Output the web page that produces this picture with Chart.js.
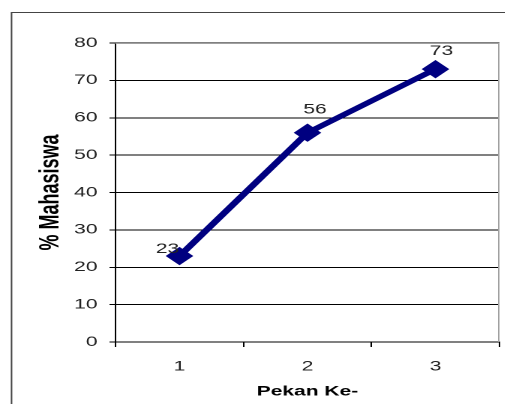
<!DOCTYPE html>
<html>
<head>
<meta charset="utf-8">
<script src="https://cdn.jsdelivr.net/npm/chart.js@4/dist/chart.umd.min.js"></script>
<style>
  html, body { margin: 0; padding: 0; background: #fff; overflow: hidden; }
  /* La imagen original está estirada en horizontal (~1.5x) */
  #wrap { width: 337px; height: 404px; transform: scaleX(1.5); transform-origin: 0 0; }
</style>
</head>
<body>
<div id="wrap"><canvas id="grafica" width="337" height="404"></canvas></div>
<script>
// Datos de la gráfica
var labelsPekan = ['1', '2', '3'];
var valuesMahasiswa = [23, 56, 73];
var ticksY = [0, 10, 20, 30, 40, 50, 60, 70, 80];

var fuente = '"Liberation Sans", Arial, sans-serif';

// Marco exterior y borde del área del gráfico
var marcoPlugin = {
    id: 'marco',
    beforeDraw: function (chart) {
        var ctx = chart.ctx;
        ctx.save();
        ctx.strokeStyle = '#444';
        ctx.lineWidth = 1;
        ctx.beginPath();
        ctx.moveTo(7.7, 420);
        ctx.lineTo(7.7, 12.5);
        ctx.lineTo(360, 12.5);
        ctx.stroke();
        ctx.restore();
    },
    beforeDatasetsDraw: function (chart) {
        var a = chart.chartArea;
        var ctx = chart.ctx;
        ctx.save();
        ctx.strokeStyle = '#a0a0a0';
        ctx.lineWidth = 1;
        ctx.beginPath();
        ctx.moveTo(a.left, a.top + 0.5);
        ctx.lineTo(a.right - 0.5, a.top + 0.5);
        ctx.lineTo(a.right - 0.5, a.bottom);
        ctx.stroke();
        ctx.restore();
    }
};

// Etiquetas de valor junto a cada punto
var etiquetasPlugin = {
    id: 'etiquetas',
    afterDatasetsDraw: function (chart) {
        var ctx = chart.ctx;
        var meta = chart.getDatasetMeta(0);
        var desplaz = [[-8, -7], [5, -23], [4, -18]];
        ctx.save();
        ctx.font = '14px ' + fuente;
        ctx.fillStyle = '#222';
        ctx.textAlign = 'center';
        ctx.textBaseline = 'middle';
        meta.data.forEach(function (p, i) {
            ctx.fillText(String(valuesMahasiswa[i]), p.x + desplaz[i][0], p.y + desplaz[i][1]);
        });
        ctx.restore();
    }
};

var chart = new Chart(document.getElementById('grafica').getContext('2d'), {
    type: 'line',
    data: {
        labels: labelsPekan,
        datasets: [{
            data: valuesMahasiswa,
            borderColor: '#000080',
            backgroundColor: '#000080',
            borderWidth: 5,
            pointStyle: 'rectRot',
            pointRadius: 8.5,
            pointBorderWidth: 1,
            pointBackgroundColor: '#000080',
            pointBorderColor: '#000080',
            tension: 0
        }]
    },
    options: {
        responsive: false,
        animation: false,
        devicePixelRatio: 2,
        events: [],
        layout: {
            autoPadding: false,
            padding: { left: 0, top: 43, right: 4, bottom: 0 }
        },
        plugins: {
            legend: { display: false },
            tooltip: { enabled: false }
        },
        scales: {
            x: {
                type: 'category',
                offset: true,
                afterFit: function (s) {
                    s.height = 62;
                    s.paddingLeft = 0;
                    s.paddingRight = 0;
                },
                grid: {
                    display: true,
                    offset: true,
                    drawOnChartArea: false,
                    drawTicks: true,
                    tickLength: 5,
                    color: '#000'
                },
                border: { display: true, color: '#000', width: 1 },
                ticks: {
                    color: '#222',
                    padding: 11,
                    font: { family: fuente, size: 14 }
                },
                title: {
                    display: true,
                    text: 'Pekan Ke-',
                    color: '#000',
                    padding: { top: 0, bottom: 4 },
                    font: { family: fuente, size: 14, weight: 'bold' }
                }
            },
            y: {
                min: 0,
                max: 80,
                afterFit: function (s) { s.width = 77; },
                afterBuildTicks: function (s) {
                    s.ticks = ticksY.map(function (v) { return { value: v }; });
                },
                grid: {
                    color: '#000',
                    lineWidth: 1,
                    drawTicks: true,
                    tickLength: 4
                },
                border: { display: true, color: '#000', width: 1 },
                ticks: {
                    color: '#222',
                    padding: 8,
                    font: { family: fuente, size: 14 }
                },
                title: {
                    display: true,
                    text: '% Mahasiswa',
                    color: '#000',
                    padding: { top: 23, bottom: 0 },
                    font: { family: fuente, size: 18, weight: 'bold' }
                }
            }
        }
    },
    plugins: [marcoPlugin, etiquetasPlugin]
});
</script>
</body>
</html>
